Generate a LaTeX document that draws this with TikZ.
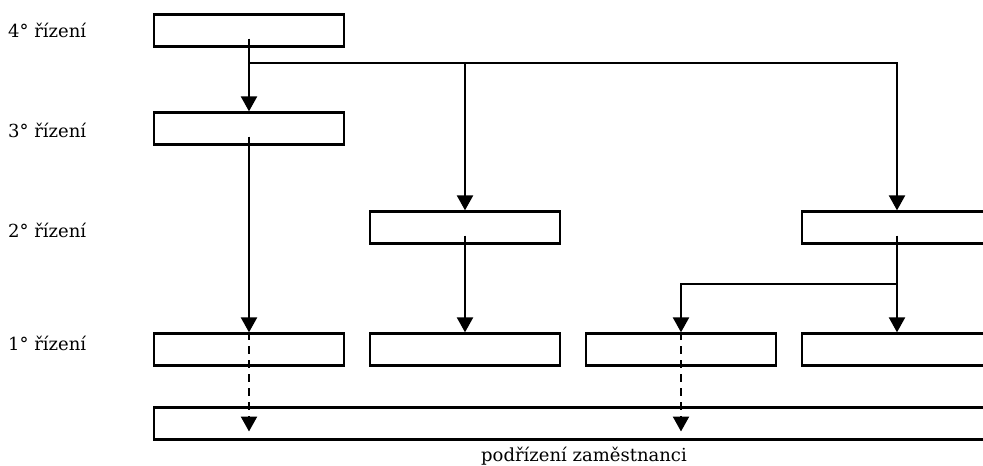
\documentclass[tikz,border=0pt]{standalone}
\usepackage{fontspec}
\setmainfont{DejaVu Serif}
\usetikzlibrary{arrows.meta,positioning,calc}

\begin{document}
\begin{tikzpicture}[x=1pt,y=-1pt,
        box/.style={draw,line width=2.3pt,minimum width=190pt,minimum height=32pt,inner sep=0pt},
        arr/.style={line width=2.3pt,-{Triangle[width=16pt,length=15pt]}},
        dasharr/.style={arr,dash pattern=on 8pt off 6pt},
        lvl/.style={anchor=base west,inner sep=0pt,font=\fontsize{18}{22}\selectfont}]
            \clip (0,0) rectangle (983,466);
            \begin{scope}[every node/.style={box}]
                \node (r4) at (249,30.5) {};
                \node (r3) at (249,128.5) {};
                \node (r2a) at (465,227.5) {};
                \node (r2b) at (897,227.5) {};
                \node (r1a) at (249,349.5) {};
                \node (r1b) at (465,349.5) {};
                \node (r1c) at (681,349.5) {};
                \node (r1d) at (897,349.5) {};
                \node[minimum width=860pt] (bot) at (584,423.5) {};
            \end{scope}
            \node[lvl] (l4) at (8,37.5) {4° řízení};
            \node[lvl] (l3) at (8,137.5) {3° řízení};
            \node[lvl] (l2) at (8,237.5) {2° řízení};
            \node[lvl] (l1) at (8,350) {1° řízení};
            \node[lvl,anchor=base] (podr) at (584,461) {podřízení zaměstnanci};
            % branching points
            \coordinate (j4) at (249,63);
            \coordinate (j2) at (897,284);
            \coordinate (e1) at ($(r1a |- bot.center)+(0,-8pt)$);
            \coordinate (e2) at ($(r1c |- bot.center)+(0,-8pt)$);
            \draw[arr] ([yshift=-8pt]r4.center) -- (r3.north);
            \draw[arr] (j4) -| (r2a.north);
            \draw[arr] (j4) -| (r2b.north);
            \draw[arr] ([yshift=-8pt]r3.center) -- (r1a.north);
            \draw[arr] ([yshift=-8pt]r2a.center) -- (r1b.north);
            \draw[arr] ([yshift=-8pt]r2b.center) -- (r1d.north);
            \draw[arr] (j2) -| (r1c.north);
            \draw[dasharr] (r1a.north) -- (e1);
            \draw[dasharr] (r1c.north) -- (e2);
        \end{tikzpicture}
\end{document}
